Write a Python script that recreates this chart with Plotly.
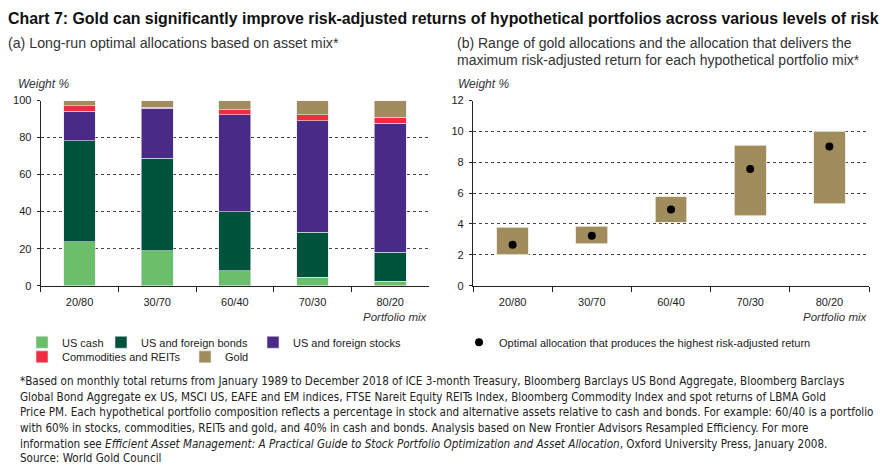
import plotly.graph_objects as go

W, H = 895, 472

categories = ["20/80", "30/70", "60/40", "70/30", "80/20"]
us_cash = [23.7, 18.9, 8.1, 4.6, 2.5]
bonds = [54.6, 49.8, 31.8, 24.4, 15.7]
stocks = [16.0, 27.2, 52.5, 60.0, 69.4]
commodities = [2.9, 0.6, 2.7, 3.4, 3.4]
gold = [2.8, 3.5, 4.9, 7.6, 9.0]

gold_low = [2.0, 2.73, 4.1, 4.52, 5.32]
gold_high = [3.78, 3.85, 5.75, 9.09, 10.0]
gold_opt = [2.66, 3.23, 4.94, 7.56, 9.02]

series_names = ["US cash", "US and foreign bonds", "US and foreign stocks",
                "Commodities and REITs", "Gold"]
colors = ["#6bbf6a", "#00533b", "#482b86", "#ee2e40", "#a18c5e"]
series_vals = [us_cash, bonds, stocks, commodities, gold]

FONT = "Liberation Sans, Arial, sans-serif"
NARROW = "Liberation Sans Narrow, DejaVu Sans Condensed, sans-serif"

def px_x(x):
    return x / W

def px_y(y):
    return 1 - y / H

fig = go.Figure()

for i, (name, vals, col) in enumerate(zip(series_names, series_vals, colors)):
    lg = "legend" if i == 0 else f"legend{i+1}"
    fig.add_trace(go.Bar(
        x=categories, y=vals, name=name,
        marker=dict(color=col, line=dict(color="#e8e4f0", width=0.6)),
        width=0.41, xaxis="x", yaxis="y", legend=lg, showlegend=True))

fig.add_trace(go.Bar(
    x=categories, y=[h - l for h, l in zip(gold_high, gold_low)], base=gold_low,
    marker=dict(color=colors[4], line=dict(color="#ece6d6", width=0.8)),
    width=0.4, xaxis="x2", yaxis="y2", showlegend=False))
fig.add_trace(go.Scatter(
    x=categories, y=gold_opt, mode="markers",
    name="Optimal allocation that produces the highest risk-adjusted return",
    marker=dict(color="black", size=8), xaxis="x2", yaxis="y2", legend="legend6"))

fig.update_layout(barmode="stack")

# legend anchor positions (pixels from top-left)
legend_pos = [(22, 345), (101, 345), (253, 345), (22, 360), (185, 360), (459, 345)]
leg_common = dict(orientation="h", font=dict(family=FONT, size=11, color="#222"),
                  bgcolor="rgba(0,0,0,0)", itemwidth=30, xanchor="left", yanchor="middle",
                  borderwidth=0)
legends = {}
for i, (lx, ly) in enumerate(legend_pos):
    key = "legend" if i == 0 else f"legend{i+1}"
    legends[key] = dict(leg_common, x=px_x(lx), y=px_y(ly))
fig.update_layout(**legends)

ydom = [px_y(287), px_y(97)]
axis_font = dict(family=FONT, size=11, color="#222")
common_x = dict(type="category", showline=True, linecolor="#222", linewidth=1.2,
                ticks="outside", tickson="boundaries", ticklen=5, tickcolor="#222",
                tickfont=axis_font, showgrid=False, range=[-0.5, 4.5], fixedrange=True,
                ticklabelstandoff=6)
common_y = dict(showline=True, linecolor="#222", linewidth=1.2, ticks="outside", ticklen=3,
                tickcolor="#222", tickfont=axis_font, showgrid=True, gridcolor="#444",
                griddash="dot", gridwidth=1, zeroline=False, domain=ydom, ticklabelstandoff=3)

fig.update_layout(
    width=W, height=H, margin=dict(l=0, r=0, t=0, b=0),
    paper_bgcolor="white", plot_bgcolor="white", showlegend=True,
    xaxis=dict(common_x, domain=[px_x(40.7), px_x(429)], anchor="y"),
    yaxis=dict(common_y, range=[0, 100], tickvals=[0, 20, 40, 60, 80, 100], anchor="x"),
    xaxis2=dict(common_x, domain=[px_x(473), px_x(869)], anchor="y2"),
    yaxis2=dict(common_y, range=[0, 12], tickvals=[0, 2, 4, 6, 8, 10, 12], anchor="x2"),
)

annotations = []
def ann(text, x, y, size=11, family=FONT, xanchor="left", yanchor="middle", color="#222"):
    annotations.append(dict(text=text, x=px_x(x), y=px_y(y), xref="paper", yref="paper",
                            showarrow=False, xanchor=xanchor, yanchor=yanchor,
                            font=dict(family=family, size=size, color=color), align="left"))

ann("<b>Chart 7: Gold can significantly improve risk-adjusted returns of hypothetical portfolios across various levels of risk</b>",
    6, 13, size=15.9, color="#111")
ann("(a) Long-run optimal allocations based on asset mix*", 6, 38, size=14.2, color="#333")
ann("(b) Range of gold allocations and the allocation that delivers the", 455, 38, size=14, color="#333")
ann("maximum risk-adjusted return for each hypothetical portfolio mix*", 455, 55, size=14, color="#333")
ann("<i>Weight %</i>", 16, 80, size=12, color="#333")
ann("<i>Weight %</i>", 456, 80, size=12, color="#333")
ann("<i>Portfolio mix</i>", 430, 319, size=11.5, xanchor="right", color="#333")
ann("<i>Portfolio mix</i>", 870, 319, size=11.5, xanchor="right", color="#333")

foot = [
    "*Based on monthly total returns from January 1989 to December 2018 of ICE 3-month Treasury, Bloomberg Barclays US Bond Aggregate, Bloomberg Barclays",
    "Global Bond Aggregate ex US, MSCI US, EAFE and EM indices, FTSE Nareit Equity REITs Index, Bloomberg Commodity Index and spot returns of LBMA Gold",
    "Price PM. Each hypothetical portfolio composition reflects a percentage in stock and alternative assets relative to cash and bonds. For example: 60/40 is a portfolio",
    "with 60% in stocks, commodities, REITs and gold, and 40% in cash and bonds. Analysis based on New Frontier Advisors Resampled Efficiency. For more",
    "information see <i>Efficient Asset Management: A Practical Guide to Stock Portfolio Optimization and Asset Allocation</i>, Oxford University Press, January 2008.",
]
for k, line in enumerate(foot):
    ann(line, 18, 385 + 16 * k, size=11.6, family=NARROW)
ann("Source: World Gold Council", 18, 464, size=11.6, family=NARROW)

fig.update_layout(annotations=annotations)
fig.write_html("out.html", config={"displayModeBar": False},
               post_script="document.body.style.margin='0';document.body.style.overflow='hidden';")
